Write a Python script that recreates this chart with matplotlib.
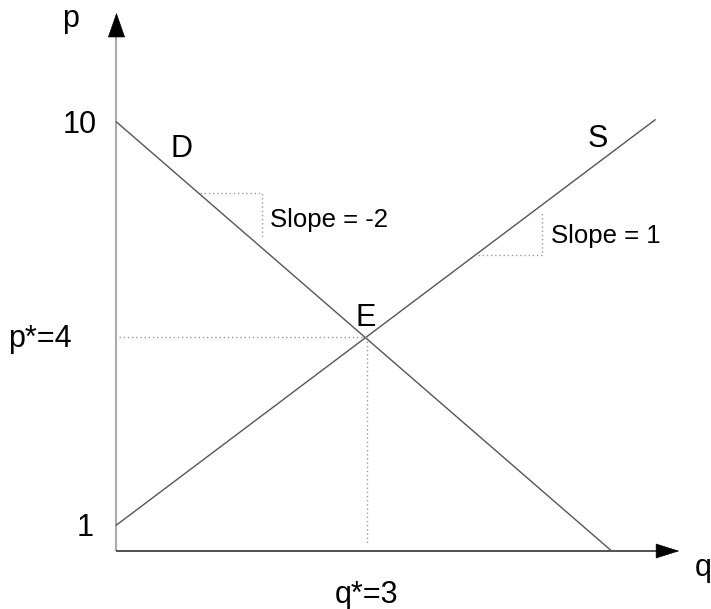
import matplotlib
matplotlib.use("Agg")
import matplotlib.pyplot as plt

# schematic supply / demand diagram (axes not drawn to scale)
demand_q = [0.0, 5.93]
demand_p = [8.02, 0.0]
supply_q = [0.0, 6.45]
supply_p = [0.486, 8.06]

eq_q = 3.0
eq_p = 4.0

# little slope triangles
demand_tri_q = [1.0, 1.743, 1.743]
demand_tri_p = [6.70, 6.70, 5.87]
supply_tri_q = [4.33, 5.096, 5.096]
supply_tri_p = [5.53, 5.53, 6.34]

axis_q_end = 6.74
axis_p_end = 10.06

LINE_COLOR = "#555555"
DOT_COLOR = "#9a9a9a"
FONT = "Liberation Sans"
BIG = 22
SMALL = 18.5


def draw_axes(ax):
    ax.plot([0, 0], [0, 9.63], color="#aaaaaa", lw=1.5, solid_capstyle="butt")
    ax.plot([0, 6.47], [0, 0], color="#222222", lw=1.1, solid_capstyle="butt")

    ax.annotate("", xy=(0, axis_p_end), xytext=(0, 9.63),
                arrowprops=dict(arrowstyle="-|>,head_length=16.6,head_width=5.8",
                                mutation_scale=1, color="black", lw=0.5,
                                shrinkA=0, shrinkB=0))
    ax.annotate("", xy=(axis_q_end, 0), xytext=(6.47, 0),
                arrowprops=dict(arrowstyle="-|>,head_length=15.8,head_width=5.0",
                                mutation_scale=1, color="black", lw=0.5,
                                shrinkA=0, shrinkB=0))


def main():
    plt.rcParams["font.family"] = [FONT, "DejaVu Sans"]
    fig = plt.figure(figsize=(7.11, 6.09), dpi=100)
    ax = fig.add_axes([0, 0, 1, 1])
    ax.set_xlim(-1.395, 7.12)
    ax.set_ylim(-1.084, 10.30)
    ax.axis("off")

    draw_axes(ax)

    ax.plot(demand_q, demand_p, color=LINE_COLOR, lw=1.0)
    ax.plot(supply_q, supply_p, color=LINE_COLOR, lw=1.0)

    dots = dict(color=DOT_COLOR, lw=1.0, linestyle=(0, (1, 2)))
    ax.plot([0.03, eq_q], [eq_p, eq_p], **dots)
    ax.plot([eq_q, eq_q], [eq_p, 0.11], **dots)
    ax.plot(demand_tri_q, demand_tri_p, **dots)
    ax.plot(supply_tri_q, supply_tri_p, **dots)

    txt = dict(fontsize=BIG, color="black", va="baseline")
    ax.text(-0.545, 9.79, "p", ha="center", **txt)
    ax.text(-0.234, 7.81, "10", ha="right", **txt)
    ax.text(-1.30, 3.81, "p*=4", ha="left", **txt)
    ax.text(-0.269, 0.28, "1", ha="right", **txt)
    ax.text(3.0, -0.97, "q*=3", ha="center", **txt)
    ax.text(6.93, -0.47, "q", ha="left", **txt)
    ax.text(0.784, 7.36, "D", ha="center", **txt)
    ax.text(5.77, 7.55, "S", ha="center", **txt)
    ax.text(2.99, 4.21, "E", ha="center", **txt)

    ax.text(1.838, 6.06, "Slope = -2", fontsize=SMALL, ha="left", va="baseline")
    ax.text(5.20, 5.76, "Slope = 1", fontsize=SMALL, ha="left", va="baseline")

    fig.savefig("out.png", dpi=100)


if __name__ == "__main__":
    main()
